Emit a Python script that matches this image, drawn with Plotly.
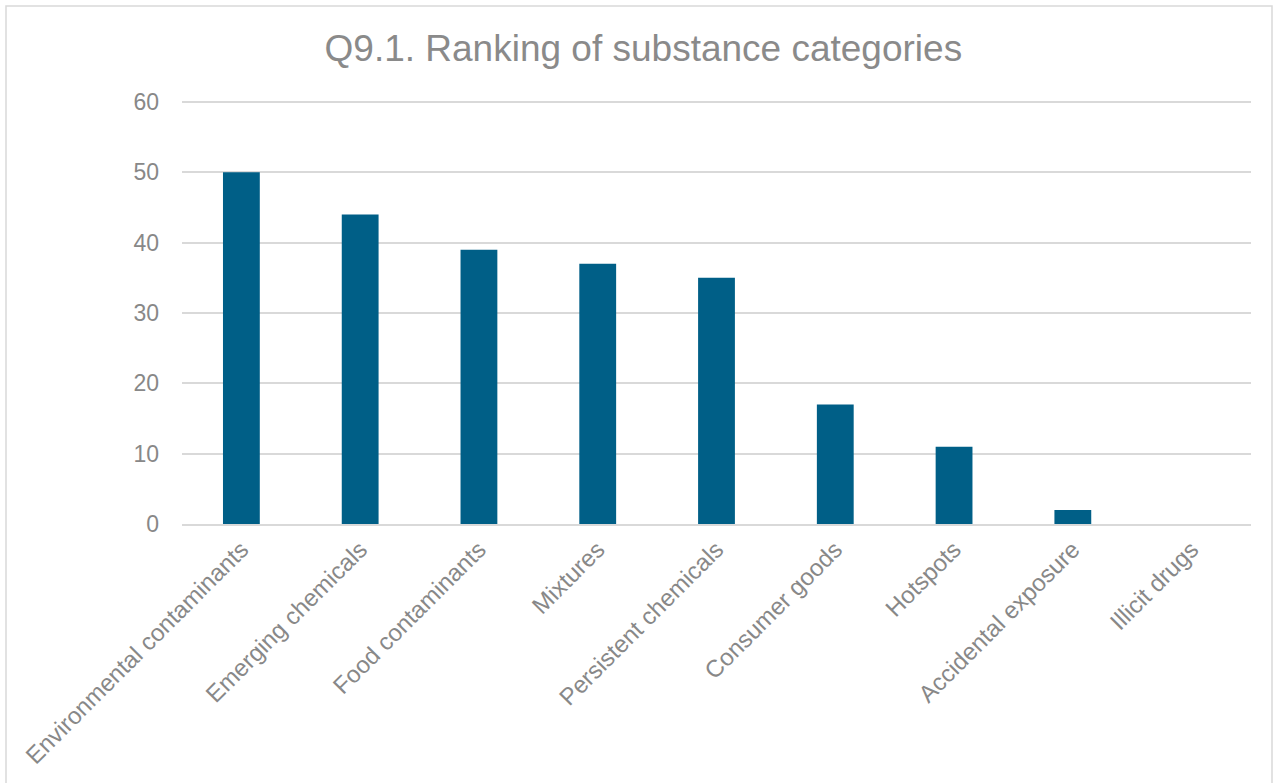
import plotly.graph_objects as go

categories = ["Environmental contaminants", "Emerging chemicals", "Food contaminants",
              "Mixtures", "Persistent chemicals", "Consumer goods", "Hotspots",
              "Accidental exposure", "Illicit drugs"]
values = [50, 44, 39, 37, 35, 17, 11, 2, 0]
y_ticks = [0, 10, 20, 30, 40, 50, 60]

W, H = 1279, 783
L, R, T, B = 182, 28, 100, 259
pw, ph = W - L - R, H - T - B
y_top = 60 * ph / 422.0

fig = go.Figure(go.Bar(x=categories, y=values, marker_color="#005F87",
                       marker_line_width=0, width=0.31))

fig.update_layout(
    width=W, height=H, autosize=False,
    margin=dict(l=L, r=R, t=T, b=B, pad=0),
    paper_bgcolor="white", plot_bgcolor="white",
    font=dict(family="Liberation Sans, Arial, sans-serif", color="#888888"),
    title=dict(text="Q9.1. Ranking of substance categories", x=0.503, xref="container",
               xanchor="center", y=1 - 48 / H, yanchor="middle",
               font=dict(size=37, color="#8a8a8a")),
    showlegend=False,
)
fig.update_xaxes(tickangle=-45, tickfont=dict(size=24, color="#888888"),
                 showgrid=False, showline=True, linecolor="#d9d9d9", linewidth=2,
                 ticks="", automargin=False)
fig.update_yaxes(range=[0, y_top], tickvals=y_ticks, tickfont=dict(size=23, color="#888888"),
                 showgrid=True, gridcolor="#d9d9d9", gridwidth=1.5, zeroline=False,
                 showline=False, ticks="", ticklabelstandoff=22, automargin=False)
fig.add_shape(type="rect", xref="paper", yref="paper",
              x0=(6 - L) / pw, x1=(1272 - L) / pw,
              y0=(H - B - 795) / ph, y1=(H - B - 6) / ph,
              line=dict(color="#d9d9d9", width=1.5), fillcolor="rgba(0,0,0,0)", layer="below")

fig.write_html("out.html")
